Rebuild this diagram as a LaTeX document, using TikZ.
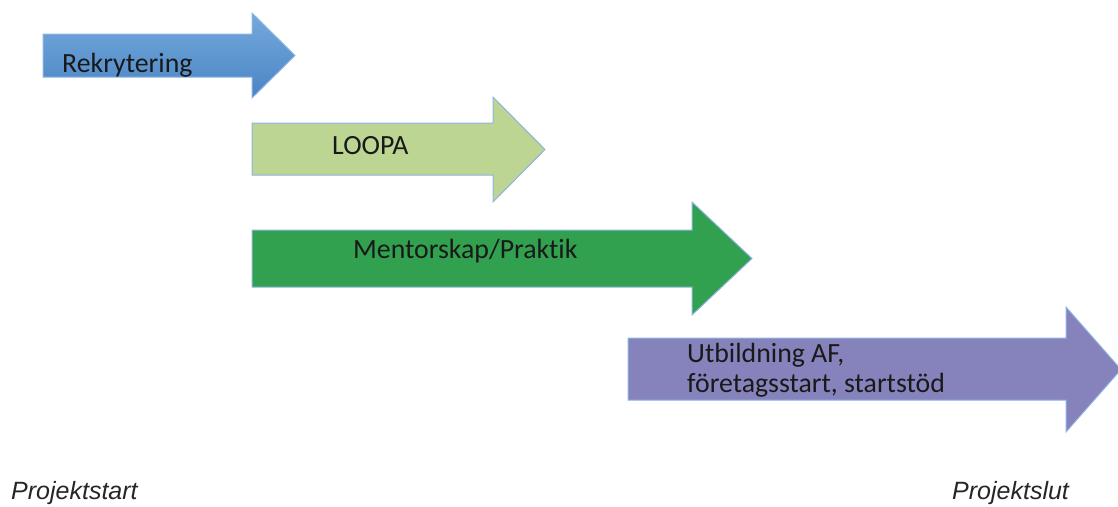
\documentclass[tikz,border=0pt]{standalone}
\usepackage{fontspec}
\setmainfont{Carlito}[Ligatures=NoCommon]
\newfontfamily\labelfont{Liberation Sans}
\definecolor{edgeblue}{HTML}{8DB4E2}
\definecolor{blueTop}{HTML}{74A9DD}
\definecolor{blueBot}{HTML}{4A85C4}
\definecolor{loopagreen}{HTML}{BCD593}
\definecolor{mentorgreen}{HTML}{31A04F}
\definecolor{utbpurple}{HTML}{8682BC}
\tikzset{
  arrowshape/.style={draw=edgeblue, line width=1pt, line join=miter},
  phasetext/.style={font=\fontsize{27.8}{30}\selectfont, text=black!90, inner sep=0pt, anchor=base west},
  endtext/.style={font=\labelfont\itshape\fontsize{25}{28}\selectfont, text=black!85, inner sep=0pt, anchor=base west},
}
\begin{document}
\begin{tikzpicture}[x=1pt,y=-1pt]
\useasboundingbox (0,0) rectangle (1118,506);
% Arrow 1: Rekrytering
\shade[arrowshape, top color=blueTop, bottom color=blueBot]
  (43,34) -- (252,34) -- (252,13) -- (295,55.5) -- (252,98) -- (252,77) -- (43,77) -- cycle;
% Arrow 2: LOOPA
\fill[arrowshape, fill=loopagreen]
  (252,123) -- (493,123) -- (493,97) -- (545,149.5) -- (493,202) -- (493,175) -- (252,175) -- cycle;
% Arrow 3: Mentorskap/Praktik
\fill[arrowshape, fill=mentorgreen]
  (252,230) -- (692,230) -- (692,202) -- (752,258.5) -- (692,315) -- (692,287) -- (252,287) -- cycle;
% Arrow 4: Utbildning
\fill[arrowshape, fill=utbpurple]
  (628,338) -- (1066,338) -- (1066,307) -- (1121,369.5) -- (1066,432) -- (1066,400) -- (628,400) -- cycle;
\node[phasetext] (rek) at (62,72) {Rekrytering};
\node[phasetext] (loopa) at (332,154) {LOOPA};
\node[phasetext] (mentor) at (353,258) {Mentorskap/Praktik};
\node[phasetext] (utb1) at (687,362) {Utbildning AF,};
\node[phasetext] (utb2) at (687,392) {företagsstart, startstöd};
\node[endtext] (pstart) at (11,499) {Projektstart};
\node[endtext] (pslut) at (952,499) {Projektslut};
\end{tikzpicture}
\end{document}
